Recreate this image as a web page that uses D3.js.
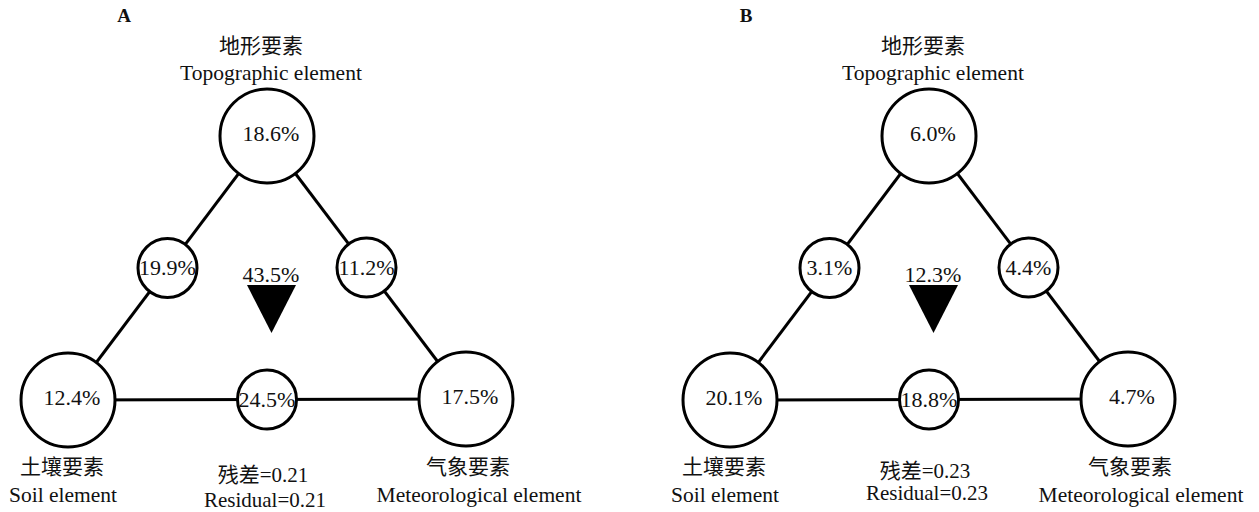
<!DOCTYPE html>
<html>
<head>
<meta charset="utf-8">
<script src="https://cdn.jsdelivr.net/npm/d3@7"></script>
<style>
  body { margin: 0; background: #fff; }
  text { font-family: "Liberation Serif", "Times New Roman", "Noto Sans CJK SC", serif; fill: #111; }
</style>
</head>
<body>
<svg id="chart"></svg>
<script>
// panel ids
const panels = ["A", "B"];
// factor names (zh / en): topographic, soil, meteorological
const factorZh = ["地形要素", "土壤要素", "气象要素"];
const factorEn = ["Topographic element", "Soil element", "Meteorological element"];
// unique fractions (%) per panel: topo, soil, meteo
const uniqueA = [18.6, 12.4, 17.5];
const uniqueB = [6.0, 20.1, 4.7];
// shared fractions (%) per panel: topo+soil, topo+meteo, soil+meteo
const sharedA = [19.9, 11.2, 24.5];
const sharedB = [3.1, 4.4, 18.8];
// fraction shared by all three (%)
const allShared = [43.5, 12.3];
// residuals
const residuals = [0.21, 0.23];

const width = 1259, height = 512;
const svg = d3.select("#chart").attr("width", width).attr("height", height);

// panel offset
const xPanel = d3.scaleOrdinal().domain(panels).range([0, 662]);

// local layout of one panel
const vert = [[267, 136], [68, 400], [466, 399]];
const pairs = [[0, 1], [0, 2], [1, 2]];
const rBig = 47, rMid = 29.5;
const fmt = d3.format(".1f");

panels.forEach(function(p, i) {
  const g = svg.append("g").attr("transform", "translate(" + xPanel(p) + ",0)");
  const uniq = i === 0 ? uniqueA : uniqueB;
  const shared = i === 0 ? sharedA : sharedB;

  // panel letter
  svg.append("text")
    .attr("x", i === 0 ? 124 : 746)
    .attr("y", 22)
    .attr("text-anchor", "middle")
    .style("font-weight", "bold")
    .style("font-size", "19px")
    .text(p);

  // edges of the triangle
  g.selectAll("line.edge")
    .data(pairs)
    .enter()
    .append("line")
    .attr("x1", d => vert[d[0]][0])
    .attr("y1", d => vert[d[0]][1])
    .attr("x2", d => vert[d[1]][0])
    .attr("y2", d => vert[d[1]][1])
    .style("stroke", "#000")
    .style("stroke-width", 3);

  // shared circles at midpoints
  const mids = pairs.map(function(d, k) {
    return {
      x: (vert[d[0]][0] + vert[d[1]][0]) / 2,
      y: (vert[d[0]][1] + vert[d[1]][1]) / 2,
      v: shared[k]
    };
  });
  g.selectAll("circle.mid")
    .data(mids)
    .enter()
    .append("circle")
    .attr("cx", d => d.x)
    .attr("cy", d => d.y)
    .attr("r", rMid)
    .style("fill", "#fff")
    .style("stroke", "#000")
    .style("stroke-width", 3);
  g.selectAll("text.mid")
    .data(mids)
    .enter()
    .append("text")
    .attr("x", d => d.x)
    .attr("y", d => d.y + 7)
    .attr("text-anchor", "middle")
    .style("font-size", "22px")
    .text(d => fmt(d.v) + "%");

  // unique circles at vertices
  g.selectAll("circle.big")
    .data(vert)
    .enter()
    .append("circle")
    .attr("cx", d => d[0])
    .attr("cy", d => d[1])
    .attr("r", rBig)
    .style("fill", "#fff")
    .style("stroke", "#000")
    .style("stroke-width", 3);
  g.selectAll("text.big")
    .data(vert)
    .enter()
    .append("text")
    .attr("x", d => d[0] + 4)
    .attr("y", d => d[1] + 5)
    .attr("text-anchor", "middle")
    .style("font-size", "22px")
    .text((d, k) => fmt(uniq[k]) + "%");

  // shared by all: value and down triangle
  g.append("text")
    .attr("x", 271)
    .attr("y", 282)
    .attr("text-anchor", "middle")
    .style("font-size", "22px")
    .text(fmt(allShared[i]) + "%");
  g.append("path")
    .attr("d", d3.line()([[247, 285], [296, 285], [271.5, 333]]) + "Z")
    .style("fill", "#000");

  // factor labels
  const labelPos = [[261, 53, 271, 80], [62, 474, 63, 502], [468, 474, 479, 502]];
  labelPos.forEach(function(lp, k) {
    g.append("text")
      .attr("x", lp[0]).attr("y", lp[1])
      .attr("text-anchor", "middle")
      .style("font-size", "21px")
      .text(factorZh[k]);
    g.append("text")
      .attr("x", lp[2]).attr("y", lp[3])
      .attr("text-anchor", "middle")
      .style("font-size", "21.5px")
      .text(factorEn[k]);
  });

  // residual
  g.append("text")
    .attr("x", 263).attr("y", i === 0 ? 482 : 478)
    .attr("text-anchor", "middle")
    .style("font-size", "21px")
    .text("残差=" + residuals[i]);
  g.append("text")
    .attr("x", 265).attr("y", i === 0 ? 507 : 500)
    .attr("text-anchor", "middle")
    .style("font-size", "21px")
    .text("Residual=" + residuals[i]);
});
</script>
</body>
</html>
